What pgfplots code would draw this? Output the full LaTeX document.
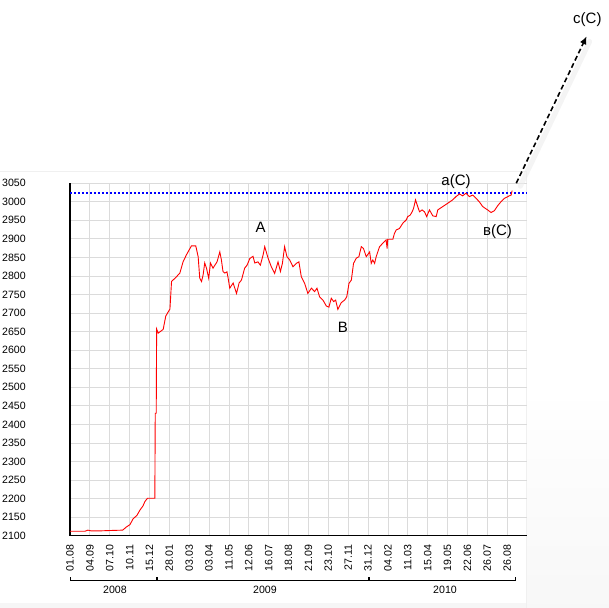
\documentclass[border=0pt]{standalone}
\usepackage{fontspec}
\setmainfont{Liberation Sans}
\usepackage{pgfplots}
\pgfplotsset{compat=1.18}
\usetikzlibrary{arrows.meta}

\begin{document}
\begin{tikzpicture}
\useasboundingbox (-70bp,-72.3bp) rectangle (539bp,535.7bp);
% light frame of the original chart image
\fill[gray!7] (-70bp,-72.3bp) rectangle (457bp,-67.3bp);
\shade[top color=white, bottom color=gray!6] (457bp,-72.3bp) rectangle (539bp,150bp);
\draw[gray!12, line width=0.8bp] (-70bp,364.7bp) -- (456bp,364.7bp) -- (456bp,-72.3bp);

\begin{axis}[
  at={(0,0)}, anchor=south west,
  scale only axis, width=457bp, height=352.5bp,
  xmin=0, xmax=23, ymin=2100, ymax=3050,
  axis lines*=left,
  axis line style={black, line width=1.2bp},
  xtick={0,...,22},
  xticklabels={01.08,04.09,07.10,10.11,15.12,28.01,03.03,03.04,11.05,12.06,16.07,18.08,21.09,23.10,27.11,31.12,04.02,11.03,15.04,19.05,22.06,26.07,26.08},
  ytick={2100,2150,...,3050},
  grid=major, grid style={gray!28, line width=0.8bp},
  major tick length=0pt,
  tick label style={font=\fontsize{10.6bp}{12bp}\selectfont},
  xticklabel style={rotate=90, anchor=east, inner sep=0pt},
  xticklabel shift=9bp,
  yticklabel style={anchor=west, inner sep=0pt, xshift=-68bp},
  /pgf/number format/assume math mode=true,
  /pgf/number format/set thousands separator={},
  clip=false,
]
% resistance level
\addplot[blue, line width=2bp, dash pattern=on 2bp off 2bp] coordinates {(0,3023) (23,3023)};

% index
\addplot[red, line width=0.9bp] coordinates {
(0,2112) (0.75,2112) (0.90,2115) (1.06,2113) (1.51,2113) (2.01,2114) (2.65,2115)
(2.85,2124) (3.02,2130) (3.17,2145) (3.37,2155) (3.52,2169) (3.67,2180) (3.77,2192)
(3.90,2201) (4.27,2201) (4.29,2430) (4.34,2430) (4.36,2657) (4.44,2646) (4.69,2656)
(4.82,2692) (5.03,2711) (5.11,2785) (5.36,2798) (5.53,2808) (5.69,2838) (5.86,2857)
(6.11,2881) (6.33,2881) (6.45,2852) (6.53,2794) (6.62,2785) (6.70,2803) (6.78,2835)
(6.87,2821) (6.98,2794) (7.07,2835) (7.20,2821) (7.29,2829) (7.40,2838) (7.54,2865)
(7.62,2843) (7.70,2812) (7.79,2808) (7.90,2811) (7.96,2794) (8.04,2767) (8.21,2781)
(8.38,2753) (8.51,2781) (8.63,2789) (8.79,2821) (8.91,2829) (9.05,2847) (9.21,2853)
(9.30,2835) (9.46,2838) (9.58,2829) (9.72,2857) (9.80,2879) (9.97,2848) (10.13,2825)
(10.30,2807) (10.47,2838) (10.59,2812) (10.69,2834) (10.80,2879) (10.92,2852)
(11.06,2843) (11.22,2825) (11.39,2834) (11.52,2838) (11.64,2798) (11.81,2780)
(11.97,2753) (12.15,2767) (12.31,2758) (12.43,2767) (12.56,2744) (12.73,2735)
(12.90,2719) (13.03,2716) (13.15,2740) (13.27,2731) (13.37,2735) (13.48,2710)
(13.65,2728) (13.82,2735) (13.93,2744) (14.04,2780) (14.16,2789) (14.27,2834)
(14.41,2848) (14.54,2852) (14.66,2879) (14.77,2874) (14.91,2852) (15.08,2865)
(15.16,2834) (15.24,2843) (15.33,2834) (15.41,2852) (15.49,2865) (15.58,2879)
(15.74,2888) (15.91,2897) (15.96,2874) (15.99,2899) (16.25,2899) (16.33,2915)
(16.42,2924) (16.58,2928) (16.75,2942) (16.92,2951) (17.00,2960) (17.12,2964)
(17.22,2973) (17.29,2982) (17.39,3005) (17.50,2987) (17.59,2973) (17.72,2978)
(17.84,2973) (17.95,2960) (18.09,2978) (18.26,2962) (18.43,2960) (18.51,2978)
(18.76,2987) (19.01,2996) (19.26,3005) (19.43,3014) (19.60,3021) (19.76,3016)
(19.93,3023) (20.10,3014) (20.27,3018) (20.44,3009) (20.60,3000) (20.77,2987)
(21.02,2978) (21.19,2971) (21.36,2976) (21.52,2989) (21.69,3000) (21.86,3009)
(22.11,3016) (22.20,3018) (22.25,3030)
};

% wave labels
\node[font=\fontsize{15bp}{18bp}\selectfont] at (axis cs:9.6,2931) {A};
\node[font=\fontsize{15bp}{18bp}\selectfont] at (axis cs:13.73,2662) {B};
\node[font=\fontsize{15bp}{18bp}\selectfont] at (axis cs:19.43,3054) {a(C)};
\node[font=\fontsize{15bp}{18bp}\selectfont] at (axis cs:21.52,2919) {в(C)};
\node[font=\fontsize{15bp}{18bp}\selectfont] at (axis cs:26.04,3490) {c(C)};

% projected move with soft shadow
\draw[gray!15, line width=5bp, line cap=round, opacity=0.6]
  ([xshift=4bp,yshift=-3bp]axis cs:22.46,3050) -- ([xshift=4bp,yshift=-3bp]axis cs:25.95,3440);
\draw[black, line width=1.6bp, dash pattern=on 5bp off 3bp, -{Latex[length=8bp,width=7bp]}]
  (axis cs:22.46,3050) -- (axis cs:26.0,3446);
\end{axis}

% year brackets
\draw[line width=0.8bp] (0bp,-41.5bp) -- (0bp,-44.3bp) -- (86bp,-44.3bp) -- (86bp,-41.5bp);
\draw[line width=0.8bp] (87.5bp,-41.5bp) -- (87.5bp,-44.3bp) -- (298bp,-44.3bp) -- (298bp,-41.5bp);
\draw[line width=0.8bp] (299.5bp,-41.5bp) -- (299.5bp,-44.3bp) -- (445bp,-44.3bp) -- (445bp,-41.5bp);
\node[font=\fontsize{10.6bp}{12bp}\selectfont] at (45bp,-54.5bp) {2008};
\node[font=\fontsize{10.6bp}{12bp}\selectfont] at (195bp,-54.5bp) {2009};
\node[font=\fontsize{10.6bp}{12bp}\selectfont] at (375bp,-54.5bp) {2010};
\end{tikzpicture}
\end{document}
